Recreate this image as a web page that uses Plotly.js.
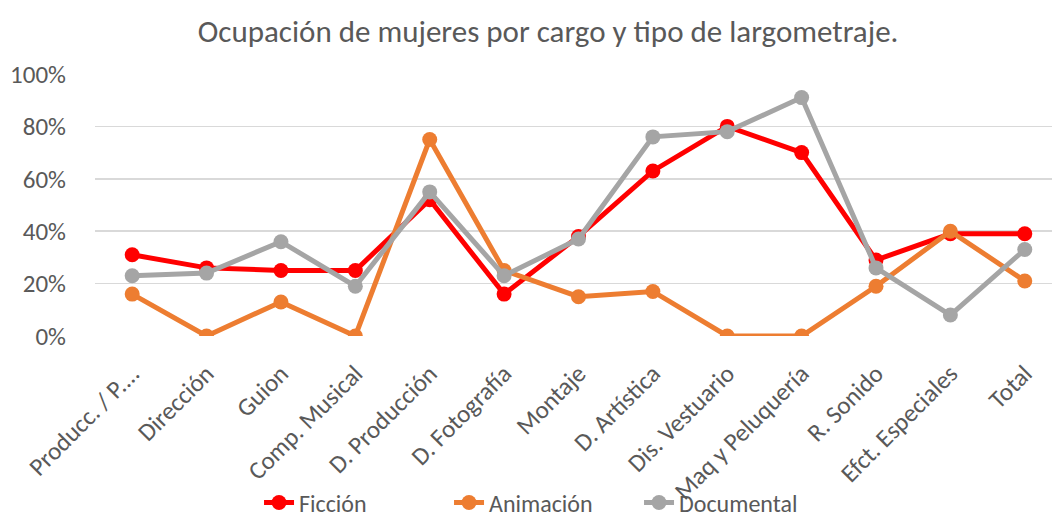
<!DOCTYPE html>
<html>
<head>
<meta charset="utf-8">
<script src="https://cdn.plot.ly/plotly-3.0.1.min.js"></script>
<style>html,body{margin:0;padding:0;background:#fff;}#chart{width:1052px;height:522px;}</style>
</head>
<body>
<div id="chart"></div>
<script>
const categories = ["Producc. / P....", "Dirección", "Guion", "Comp. Musical", "D. Producción", "D. Fotografía", "Montaje", "D. Artística", "Dis. Vestuario", "Maq y Peluquería", "R. Sonido", "Efct. Especiales", "Total"];
const ficcion    = [0.31, 0.26, 0.25, 0.25, 0.52, 0.16, 0.38, 0.63, 0.80, 0.70, 0.29, 0.39, 0.39];
const animacion  = [0.16, 0.00, 0.13, 0.00, 0.75, 0.25, 0.15, 0.17, 0.00, 0.00, 0.19, 0.40, 0.21];
const documental = [0.23, 0.24, 0.36, 0.19, 0.55, 0.23, 0.37, 0.76, 0.78, 0.91, 0.26, 0.08, 0.33];
const yTicks = [0, 0.2, 0.4, 0.6, 0.8, 1.0];
const yTickText = ["0%", "20%", "40%", "60%", "80%", "100%"];

const font = "Carlito, Lato, 'Open Sans', sans-serif";
const txt = "#595959";
function tr(name, y, color) {
  return {type: "scatter", mode: "lines+markers", name: name, x: categories, y: y,
    line: {color: color, width: 5}, marker: {color: color, size: 15}};
}
const data = [tr("Ficción", ficcion, "#FF0000"), tr("Animación", animacion, "#ED7D31"), tr("Documental", documental, "#A5A5A5")];
const layout = {
  width: 1052, height: 522,
  margin: {l: 95, r: 0, t: 74, b: 186, autoexpand: false},
  paper_bgcolor: "#fff", plot_bgcolor: "#fff",
  font: {family: font, color: txt, size: 25},
  title: {text: "Ocupación de mujeres por cargo y tipo de largometraje.", x: 0.521, xanchor: "center", y: 0.94, yanchor: "middle", font: {size: 31, color: txt, family: font}},
  xaxis: {type: "category", range: [-0.5, 12.366], tickangle: -45, showgrid: false, zeroline: false, showline: false, automargin: false,
    ticks: "outside", ticklen: 12, tickcolor: "rgba(0,0,0,0)", tickfont: {size: 25, color: txt, family: font}},
  yaxis: {range: [0, 1], tickvals: yTicks, ticktext: yTickText, showgrid: true, gridcolor: "#D9D9D9", gridwidth: 1.5, automargin: false,
    zeroline: false, showline: false, ticks: "outside", ticklen: 23, tickcolor: "rgba(0,0,0,0)", tickfont: {size: 25, color: txt, family: font}},
  showlegend: true,
  legend: {orientation: "h", x: 0.1714, xanchor: "left", y: -0.637, yanchor: "middle", bgcolor: "rgba(0,0,0,0)", font: {size: 24, color: txt, family: font}, tracegroupgap: 0, entrywidth: 145},
};
Plotly.newPlot("chart", data, layout, {displayModeBar: false, staticPlot: true});
</script>
</body>
</html>
